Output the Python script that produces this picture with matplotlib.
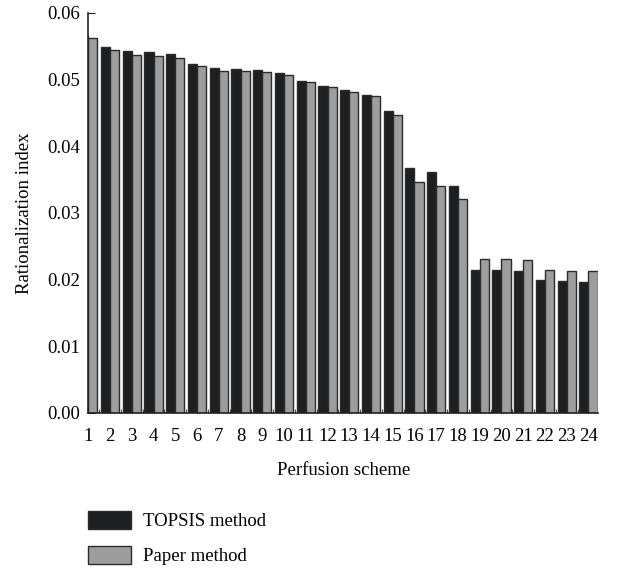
import matplotlib
matplotlib.use("Agg")
import matplotlib.pyplot as plt
import numpy as np
from matplotlib.patches import Patch
from matplotlib.ticker import MultipleLocator

plt.rcParams['font.family'] = ['Liberation Serif', 'DejaVu Serif']

# Perfusion schemes 1..24
schemes = list(range(1, 25))

# Rationalization index
topsis = [0.0565, 0.0549, 0.0543, 0.0541, 0.0538, 0.0524, 0.0517, 0.0516,
          0.0515, 0.0510, 0.0498, 0.0491, 0.0484, 0.0477, 0.0453, 0.0367,
          0.0361, 0.0341, 0.0215, 0.0215, 0.0213, 0.0199, 0.0198, 0.0197]
paper = [0.0562, 0.0545, 0.0537, 0.0536, 0.0533, 0.0521, 0.0513, 0.0513,
         0.0512, 0.0507, 0.0496, 0.0489, 0.0482, 0.0475, 0.0447, 0.0347,
         0.0341, 0.0321, 0.0231, 0.0231, 0.0229, 0.0214, 0.0213, 0.0213]

black = "#1e1f21"
grey = "#9d9d9d"
edge = "#2b2b2b"
fs = 13.5

fig = plt.figure(figsize=(6.19, 5.69), dpi=100)
ax = fig.add_axes([0.1427, 0.2742, 0.8234, 0.703])

x = np.array(schemes)
w = 0.42
# black bar sits left of the scheme position, grey bar right of it
ax.bar(x - w / 2, topsis, width=w, color=black, edgecolor=edge, linewidth=1.0)
ax.bar(x + w / 2, paper, width=w, color=grey, edgecolor=edge, linewidth=1.0)

ax.set_xlim(1, 24.44)
ax.set_ylim(0, 0.06)
ax.set_axisbelow(True)

ax.xaxis.set_major_locator(MultipleLocator(1))
ax.xaxis.set_minor_locator(MultipleLocator(0.5))
ax.yaxis.set_major_locator(MultipleLocator(0.01))
ax.yaxis.set_minor_locator(MultipleLocator(0.005))
ax.yaxis.set_major_formatter(plt.FuncFormatter(lambda v, p: f"{v:.2f}"))
ax.tick_params(which="both", direction="in", labelsize=fs, color="#222")
ax.tick_params(which="major", length=5)
ax.tick_params(which="minor", length=3)
ax.tick_params(axis="x", pad=11)
ax.tick_params(axis="y", pad=6)

for s in ["top", "right"]:
    ax.spines[s].set_visible(False)
for s in ["left", "bottom"]:
    ax.spines[s].set_linewidth(1.2)
    ax.spines[s].set_color("#222")

ax.set_xlabel("Perfusion scheme", fontsize=fs, labelpad=12)
ax.set_ylabel("Rationalization index", fontsize=fs, labelpad=10)

handles = [Patch(facecolor=black, edgecolor=edge, linewidth=1.0, label="TOPSIS method"),
           Patch(facecolor=grey, edgecolor=edge, linewidth=1.0, label="Paper method")]
fig.legend(handles=handles, loc="upper left", bbox_to_anchor=(88 / 619, 1 - 511 / 569),
           frameon=False, fontsize=fs, handlelength=2.3, handleheight=1.12,
           labelspacing=0.82, handletextpad=0.65, borderpad=0, borderaxespad=0)

fig.savefig("out.png", dpi=100)
